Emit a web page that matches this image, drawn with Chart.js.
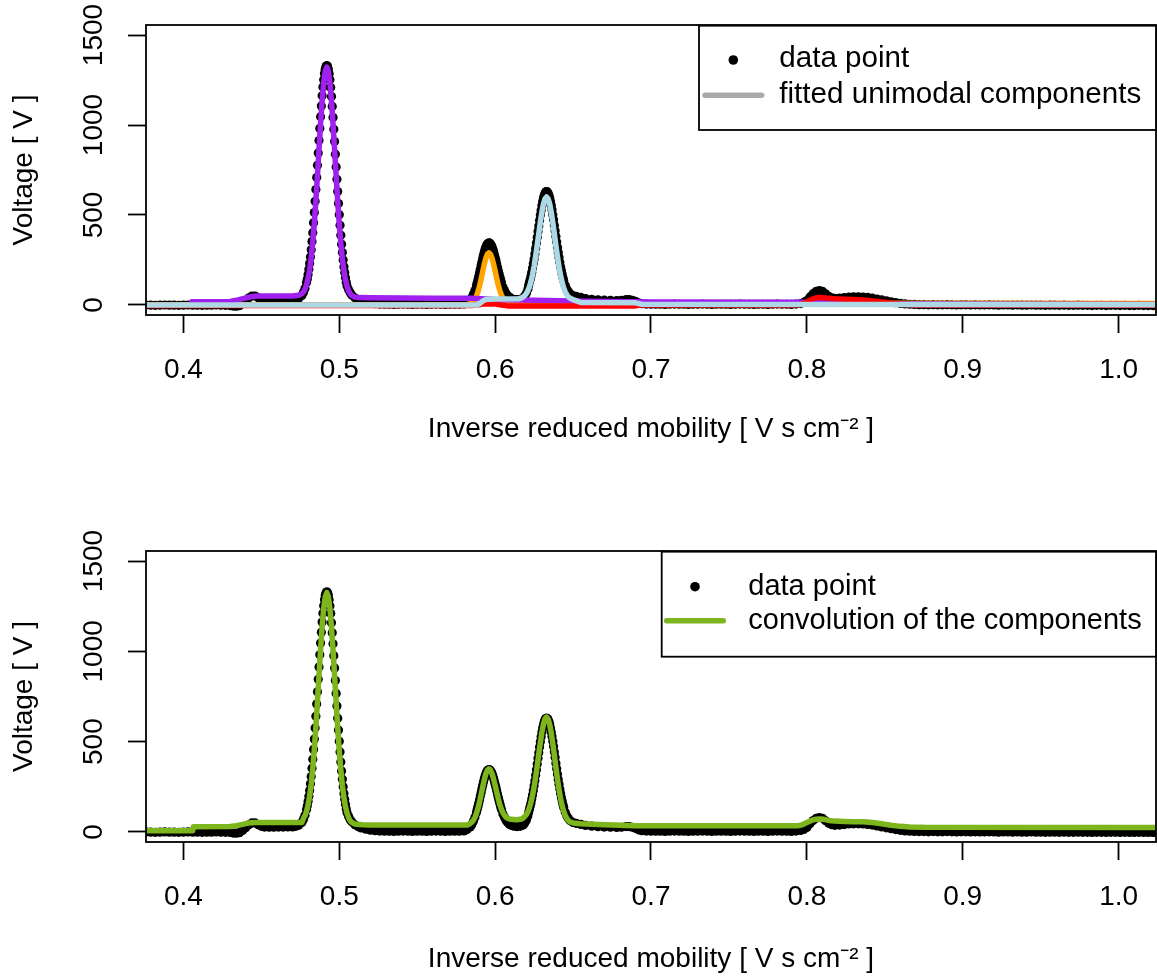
<!DOCTYPE html>
<html><head><meta charset="utf-8">
<script src="https://cdn.jsdelivr.net/npm/chart.js@4.4.1/dist/chart.umd.min.js"></script>
<style>
html,body{margin:0;padding:0;background:#fff;}
#wrap{position:relative;width:1157px;height:977px;background:#fff;}
canvas{position:absolute;left:0;}
#c1{top:0;} #c2{top:488px;}
</style></head><body>
<div id="wrap"><canvas id="c1" width="1157" height="488"></canvas><canvas id="c2" width="1157" height="489"></canvas></div>
<script>
// ---- tick labels / ranges / texts ----
const xTicks = [0.4, 0.5, 0.6, 0.7, 0.8, 0.9, 1.0];
const yTicks = [0, 500, 1000, 1500];
const xRange = [0.376, 1.024];
const yRange = [-55.6, 1555.6];
const xTitle = 'Inverse reduced mobility [ V s cm⁻² ]';
const yTitle = 'Voltage [ V ]';
const legendTop = ['data point', 'fitted unimodal components'];
const legendBottom = ['data point', 'convolution of the components'];

// ---- measured spectrum: [inverse reduced mobility, voltage] ----
const dataPts = [
[0.370,-1],[0.373,-1],[0.376,0],[0.379,-1],[0.382,-2],[0.385,-1],[0.388,0],[0.391,-1],[0.394,-1],[0.397,-2],
[0.400,-1],[0.403,0],[0.406,-1],[0.409,-1],[0.412,-2],[0.415,-1],[0.418,-1],[0.421,0],[0.424,-1],[0.427,-2],
[0.430,-3],[0.432,-6],[0.434,-7],[0.436,-4],[0.438,8],[0.440,24],[0.442,40],[0.444,50],[0.446,50],[0.448,40],
[0.450,31],[0.452,27],[0.455,26],[0.458,26],[0.461,27],[0.464,27],[0.467,28],[0.470,28],[0.472,31],[0.474,37],
[0.476,53],[0.477,69],[0.478,92],[0.479,125],[0.4795,145],[0.480,170],[0.4805,198],[0.481,230],[0.4815,267],[0.482,307],
[0.4825,353],[0.483,402],[0.4835,457],[0.484,514],[0.4845,576],[0.485,641],[0.4855,708],[0.486,776],[0.4865,845],[0.487,914],
[0.4875,981],[0.488,1046],[0.4885,1106],[0.489,1162],[0.4895,1211],[0.490,1252],[0.4905,1286],[0.491,1310],[0.4915,1325],[0.492,1330],
[0.4925,1325],[0.493,1310],[0.4935,1285],[0.494,1251],[0.4945,1209],[0.495,1159],[0.4955,1103],[0.496,1042],[0.4965,976],[0.497,908],
[0.4975,838],[0.498,767],[0.4985,698],[0.499,630],[0.4995,564],[0.500,502],[0.5005,443],[0.501,388],[0.5015,338],[0.502,292],
[0.5025,250],[0.503,213],[0.5035,181],[0.504,152],[0.5045,127],[0.505,106],[0.506,85],[0.507,68],[0.508,56],[0.510,40],
[0.512,30],[0.514,22],[0.517,15],[0.520,10],[0.523,7],[0.526,5],[0.529,4],[0.532,4],[0.535,3],[0.538,4],
[0.541,5],[0.544,4],[0.547,3],[0.550,4],[0.553,4],[0.556,3],[0.559,4],[0.562,5],[0.565,4],[0.568,3],
[0.571,4],[0.574,4],[0.577,4],[0.580,6],[0.582,13],[0.584,28],[0.585,40],[0.586,58],[0.587,80],[0.588,108],
[0.5885,124],[0.589,142],[0.5895,160],[0.590,179],[0.5905,199],[0.591,219],[0.5915,239],[0.592,258],[0.5925,276],[0.593,293],
[0.5935,308],[0.594,321],[0.5945,331],[0.595,339],[0.5955,343],[0.596,345],[0.5965,344],[0.597,339],[0.5975,332],[0.598,323],
[0.5985,311],[0.599,297],[0.5995,281],[0.600,264],[0.6005,247],[0.601,228],[0.6015,210],[0.602,192],[0.6025,174],[0.603,157],
[0.6035,141],[0.604,126],[0.605,100],[0.606,80],[0.607,64],[0.608,52],[0.609,44],[0.610,38],[0.612,32],[0.614,30],
[0.616,31],[0.618,38],[0.619,50],[0.620,65],[0.621,88],[0.6215,108],[0.622,126],[0.6225,142],[0.623,161],[0.6235,182],
[0.624,205],[0.6245,230],[0.625,256],[0.6255,284],[0.626,314],[0.6265,345],[0.627,376],[0.6275,408],[0.628,439],[0.6285,470],
[0.629,500],[0.6295,527],[0.630,553],[0.6305,575],[0.631,594],[0.6315,610],[0.632,621],[0.6325,628],[0.633,630],[0.6335,628],
[0.634,621],[0.6345,610],[0.635,595],[0.6355,576],[0.636,554],[0.6365,529],[0.637,502],[0.6375,473],[0.638,443],[0.6385,412],
[0.639,381],[0.6395,350],[0.640,320],[0.6405,291],[0.641,264],[0.6415,238],[0.642,213],[0.6425,191],[0.643,171],[0.6435,152],
[0.644,136],[0.645,109],[0.646,88],[0.647,74],[0.648,63],[0.650,52],[0.652,48],[0.655,42],[0.658,36],[0.662,32],
[0.666,29],[0.670,27],[0.674,26],[0.678,25],[0.681,26],[0.684,30],[0.686,30],[0.688,26],[0.690,20],[0.692,12],
[0.694,7],[0.697,5],[0.700,4],[0.703,4],[0.706,4],[0.709,3],[0.712,4],[0.715,5],[0.718,4],[0.721,4],
[0.724,3],[0.727,4],[0.730,4],[0.733,5],[0.736,4],[0.739,3],[0.742,4],[0.745,4],[0.748,4],[0.751,3],
[0.754,4],[0.757,5],[0.760,4],[0.763,4],[0.766,3],[0.769,4],[0.772,4],[0.775,3],[0.778,4],[0.781,5],
[0.784,4],[0.787,4],[0.790,3],[0.793,5],[0.796,8],[0.798,14],[0.800,25],[0.802,45],[0.804,63],[0.806,76],
[0.808,80],[0.810,76],[0.812,62],[0.814,48],[0.816,40],[0.818,37],[0.821,38],[0.824,41],[0.827,44],[0.830,45],
[0.833,45],[0.836,44],[0.839,42],[0.842,38],[0.845,33],[0.848,28],[0.851,23],[0.854,18],[0.857,13],[0.860,9],
[0.863,6],[0.866,4],[0.869,3],[0.872,2],[0.875,2],[0.878,1],[0.881,2],[0.884,1],[0.887,1],[0.890,2],
[0.893,1],[0.896,0],[0.899,1],[0.902,1],[0.905,0],[0.908,1],[0.911,0],[0.914,0],[0.917,1],[0.920,0],
[0.923,-1],[0.926,0],[0.929,0],[0.932,-1],[0.935,0],[0.938,-1],[0.941,-1],[0.944,0],[0.947,-1],[0.950,-1],
[0.953,-2],[0.956,-1],[0.959,-1],[0.962,-2],[0.965,-1],[0.968,-2],[0.971,-2],[0.974,-1],[0.977,-2],[0.980,-2],
[0.983,-3],[0.986,-2],[0.989,-2],[0.992,-3],[0.995,-2],[0.998,-2],[1.001,-3],[1.004,-2],[1.007,-3],[1.010,-3],
[1.013,-2],[1.016,-3],[1.019,-3],[1.022,-3],[1.025,-3],[1.028,-3]
];

// ---- fitted unimodal components (top panel) ----
const purplePts = [
[0.4054,18],[0.425,18],[0.430,20],[0.435,28],[0.440,40],[0.445,48],[0.450,50],[0.470,50],[0.474,54],[0.476,63],
[0.477,73],[0.478,88],[0.479,112],[0.480,148],[0.481,198],[0.482,265],[0.483,350],[0.484,457],[0.485,582],[0.486,720],
[0.487,865],[0.488,1007],[0.489,1134],[0.490,1234],[0.491,1299],[0.492,1322],[0.493,1299],[0.494,1234],[0.495,1132],[0.496,1004],
[0.497,862],[0.498,716],[0.499,576],[0.500,450],[0.501,343],[0.502,257],[0.503,189],[0.504,139],[0.505,103],[0.506,78],
[0.507,63],[0.508,53],[0.510,44],[0.513,41],[0.520,40],[0.560,38],[0.585,38],[0.600,30],[0.650,22],[0.700,17],
[0.800,15],[0.860,5],[1.030,2]
];
const orangePts = [
[0.370,2],[0.580,2],[0.582,3],[0.584,7],[0.585,11],[0.586,19],[0.587,31],[0.588,49],[0.589,74],[0.590,106],
[0.591,144],[0.592,185],[0.593,225],[0.594,259],[0.595,282],[0.596,290],[0.597,282],[0.598,260],[0.599,227],[0.600,188],
[0.601,148],[0.602,111],[0.603,80],[0.604,56],[0.605,38],[0.606,27],[0.607,19],[0.608,15],[0.610,11],[1.030,8]
];
const redPts = [
[0.370,-3],[0.585,-3],[0.588,0],[0.592,5],[0.596,6],[0.600,5],[0.604,0],[0.608,-5],[0.690,-5],[0.694,0],
[0.790,0],[0.795,2],[0.798,8],[0.800,17],[0.802,27],[0.804,35],[0.806,40],[0.808,42],[0.810,41],[0.812,39],
[0.816,36],[0.820,34],[0.825,32],[0.830,30],[0.835,28],[0.840,25],[0.845,20],[0.850,15],[0.855,10],[0.860,5],
[0.866,2],[0.870,0],[1.030,-1]
];
const bluePts = [
[0.370,0],[0.588,0],[0.590,8],[0.592,22],[0.594,30],[0.600,33],[0.615,34],[0.617,40],[0.618,45],[0.619,52],
[0.620,63],[0.621,79],[0.622,101],[0.623,130],[0.624,168],[0.625,216],[0.626,271],[0.627,333],[0.628,397],[0.629,460],
[0.630,516],[0.631,561],[0.632,590],[0.633,600],[0.634,590],[0.635,561],[0.636,515],[0.637,458],[0.638,395],[0.639,329],
[0.640,267],[0.641,211],[0.642,163],[0.643,125],[0.644,94],[0.645,72],[0.646,56],[0.647,45],[0.648,38],[0.650,30],
[0.655,14],[0.690,12],[0.694,4],[1.030,2]
];
// ---- convolution of the components (bottom panel) ----
const greenPts = [
[0.370,7],[0.4060,7],[0.4064,29],[0.430,30],[0.434,35],[0.438,42],[0.442,50],[0.446,52],[0.476,52],
[0.477,75],[0.478,90],[0.479,114],[0.480,150],[0.481,200],[0.482,267],[0.483,352],[0.484,459],[0.485,584],[0.486,723],
[0.487,868],[0.488,1009],[0.489,1137],[0.490,1237],[0.491,1302],[0.492,1325],[0.493,1302],[0.494,1236],[0.495,1135],[0.496,1006],
[0.497,864],[0.498,717],[0.499,577],[0.500,451],[0.501,343],[0.502,257],[0.503,189],[0.504,139],[0.505,103],[0.506,79],
[0.507,63],[0.508,53],[0.510,44],[0.515,40],[0.520,39],[0.582,38],[0.584,47],[0.585,54],[0.586,65],[0.587,80],
[0.588,102],[0.589,131],[0.590,166],[0.591,206],[0.592,248],[0.593,288],[0.594,321],[0.595,342],[0.596,350],[0.597,343],
[0.598,323],[0.599,294],[0.600,258],[0.601,220],[0.602,184],[0.603,152],[0.604,126],[0.605,106],[0.606,92],[0.607,82],
[0.608,76],[0.610,70],[0.614,68],[0.617,72],[0.618,78],[0.619,85],[0.620,96],[0.621,112],[0.622,134],[0.623,164],
[0.624,202],[0.625,250],[0.626,305],[0.627,367],[0.628,432],[0.629,495],[0.630,552],[0.631,597],[0.632,626],[0.633,636],
[0.634,625],[0.635,595],[0.636,549],[0.637,489],[0.638,425],[0.639,356],[0.640,292],[0.641,234],[0.642,185],[0.643,145],
[0.644,114],[0.645,91],[0.646,74],[0.647,63],[0.648,56],[0.650,50],[0.655,46],[0.670,40],[0.690,35],[0.695,34],
[0.794,34],[0.797,40],[0.800,52],[0.803,64],[0.806,71],[0.808,72],[0.811,70],[0.814,64],[0.818,60],[0.824,58],
[0.830,57],[0.836,56],[0.842,52],[0.848,45],[0.854,37],[0.860,31],[0.866,28],[0.875,26],[1.030,24]
];

// ---- rendering ----
const FONT = '"Liberation Sans", Arial, Helvetica, sans-serif';
Chart.defaults.font.family = FONT;
Chart.defaults.font.size = 28;
Chart.defaults.color = '#000';

const toXY = a => a.map(p => ({x: p[0], y: p[1]}));

function xScale(height, titlePad) {
  return {
    type: 'linear', position: 'bottom', min: xRange[0], max: xRange[1],
    afterBuildTicks: s => { s.ticks = xTicks.map(v => ({value: v})); },
    afterFit: s => { s.height = height; s.paddingLeft = 0; s.paddingRight = 0; s.paddingTop = 0; s.paddingBottom = 0; },
    ticks: { autoSkip: false, maxRotation: 0, minRotation: 0, padding: 20, color: '#000',
             font: {size: 28}, callback: v => Number(v).toFixed(1) },
    grid: { display: true, drawOnChartArea: false, drawTicks: true, tickLength: 18, tickWidth: 1.8, tickColor: '#000' },
    border: { display: false },
    title: { display: true, text: xTitle, color: '#000', font: {size: 28, lineHeight: 1.2},
             padding: {top: 0, bottom: titlePad} }
  };
}
function yScale() {
  return {
    type: 'linear', position: 'left', min: yRange[0], max: yRange[1],
    afterBuildTicks: s => { s.ticks = yTicks.map(v => ({value: v})); },
    afterFit: s => { s.width = 146; s.paddingLeft = 0; s.paddingRight = 0; s.paddingTop = 0; s.paddingBottom = 0; },
    ticks: { autoSkip: false, minRotation: 90, maxRotation: 90, crossAlign: 'center', padding: 2.7,
             color: '#000', font: {size: 28}, callback: v => String(v) },
    grid: { display: true, drawOnChartArea: false, drawTicks: true, tickLength: 18, tickWidth: 1.8, tickColor: '#000' },
    border: { display: false },
    title: { display: true, text: yTitle, color: '#000', font: {size: 28, lineHeight: 1.2},
             padding: {top: 7.8, bottom: 0} }
  };
}

const boxLegend = {
  id: 'boxLegend',
  afterDatasetsDraw(chart) {
    const {ctx, chartArea: a} = chart;
    ctx.save();
    ctx.strokeStyle = '#000'; ctx.lineWidth = 1.8;
    ctx.strokeRect(a.left, a.top, a.right - a.left, a.bottom - a.top);
    ctx.restore();
  },
  afterDraw(chart, args, o) {
    const {ctx, chartArea: a} = chart;
    const x0 = a.right - o.width, y0 = a.top + o.dy;
    ctx.save();
    ctx.fillStyle = '#fff';
    ctx.fillRect(x0, y0, o.width, o.height);
    ctx.strokeStyle = '#000'; ctx.lineWidth = 1.8;
    ctx.strokeRect(x0, y0, o.width, o.height);
    ctx.beginPath();
    ctx.arc(x0 + o.dotX, y0 + o.dotY, 4.8, 0, Math.PI * 2);
    ctx.fillStyle = '#000'; ctx.fill();
    ctx.beginPath();
    ctx.moveTo(x0 + o.lineX0, y0 + o.row2); ctx.lineTo(x0 + o.lineX1, y0 + o.row2);
    ctx.lineWidth = 5.5; ctx.lineCap = 'round'; ctx.strokeStyle = o.lineColor; ctx.stroke();
    ctx.font = o.fontSize + 'px ' + FONT; ctx.fillStyle = '#000';
    ctx.textBaseline = 'middle'; ctx.textAlign = 'left';
    ctx.fillText(o.labels[0], x0 + o.textX, y0 + o.row1);
    ctx.fillText(o.labels[1], x0 + o.textX, y0 + o.row2);
    ctx.restore();
  }
};

const pointsDs = () => ({
  label: 'data point', data: toXY(dataPts), showLine: false,
  pointRadius: 4.6, pointHoverRadius: 4.6, pointBackgroundColor: '#000', pointBorderWidth: 0,
  pointBorderColor: '#000', order: 10, clip: 0
});
const lineDs = (label, pts, color, order) => ({
  label, data: toXY(pts), showLine: true, pointRadius: 0, pointHoverRadius: 0,
  borderColor: color, backgroundColor: color, borderWidth: 5.5,
  borderCapStyle: 'round', borderJoinStyle: 'round', tension: 0, fill: false, order, clip: 0
});

const common = (padTop, xH, titlePad, legendOpts) => ({
  responsive: false, animation: false, devicePixelRatio: 1, events: [],
  layout: { autoPadding: false, padding: {top: padTop, right: 1, left: 0, bottom: 0} },
  scales: { x: xScale(xH, titlePad), y: yScale() },
  plugins: { legend: {display: false}, tooltip: {enabled: false}, boxLegend: legendOpts }
});

new Chart(document.getElementById('c1'), {
  type: 'scatter',
  data: { datasets: [
    pointsDs(),
    lineDs('component 4', orangePts, '#FFA500', 4),
    lineDs('component 1', purplePts, '#A020F0', 3),
    lineDs('component 5', redPts, '#FF0000', 2),
    lineDs('component 3', bluePts, '#ADD8E6', 1)
  ]},
  options: common(25, 173, 41.6, {
    labels: legendTop, lineColor: '#AAAAAA', width: 457, height: 104.3, dy: 0.7, fontSize: 29.6,
    dotX: 34.3, dotY: 34.3, row1: 33, row2: 69.5, lineX0: 6, lineX1: 62.7, textX: 80.3
  }),
  plugins: [boxLegend]
});

new Chart(document.getElementById('c2'), {
  type: 'scatter',
  data: { datasets: [
    pointsDs(),
    lineDs('convolution of the components', greenPts, '#7DB51D', 1)
  ]},
  options: common(63, 135, 0.6, {
    labels: legendBottom, lineColor: '#7DB51D', width: 494.3, height: 105, dy: 0.7, fontSize: 29,
    dotX: 33.3, dotY: 35, row1: 35.3, row2: 69, lineX0: 5, lineX1: 61.6, textX: 86.6
  }),
  plugins: [boxLegend]
});
</script>
</body></html>
